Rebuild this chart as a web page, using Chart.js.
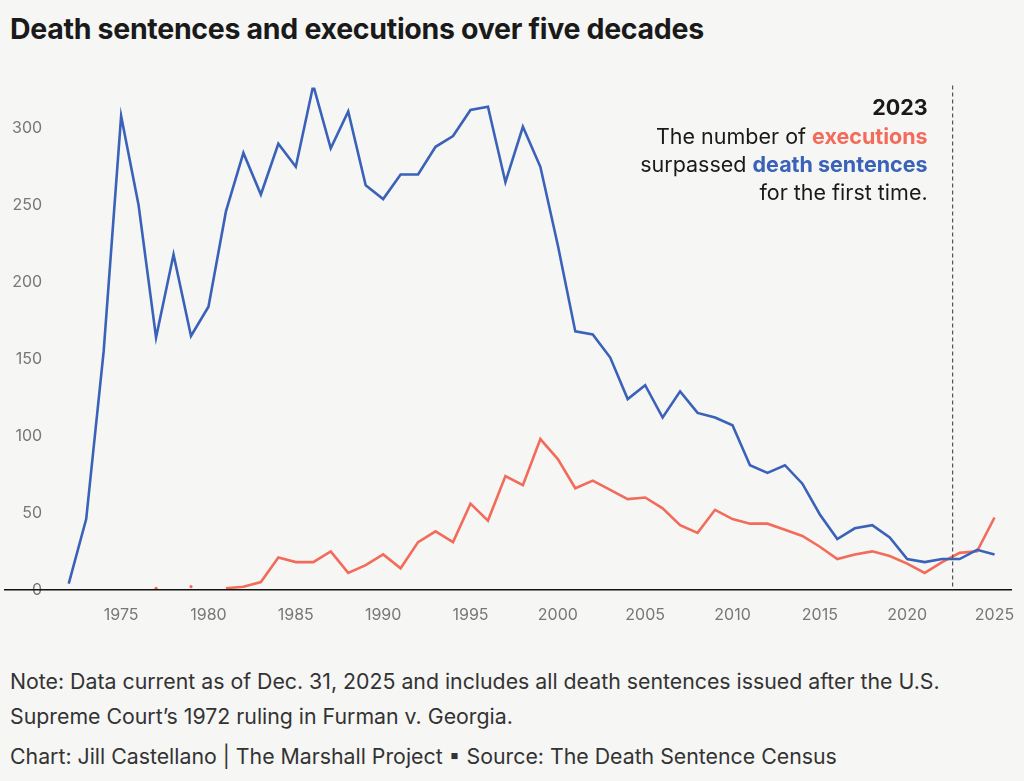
<!DOCTYPE html>
<html>
<head>
<meta charset="utf-8">
<script src="https://cdn.jsdelivr.net/npm/chart.js@4"></script>
<style>
  body { margin: 0; background: #f6f6f4; font-family: Inter, "Noto Sans", sans-serif; color: #1a1a1a; }
  h1 { position: absolute; left: 10px; top: 11px; margin: 0; font-size: 28.5px; font-weight: 700; letter-spacing: -0.3px; }
  #wrap { position: absolute; left: 0; top: 70px; width: 1024px; height: 563px; }
  .note { position: absolute; left: 10px; font-size: 21.3px; color: #333; line-height: 35px; }
</style>
</head>
<body>
<h1>Death sentences and executions over five decades</h1>
<div id="wrap"><canvas id="chart"></canvas></div>
<div class="note" style="top:664px">Note: Data current as of Dec. 31, 2025 and includes all death sentences issued after the U.S.<br>Supreme Court’s 1972 ruling in Furman v. Georgia.</div>
<div class="note" style="top:739px">Chart: Jill Castellano | The Marshall Project ▪ Source: The Death Sentence Census</div>
<script>
// Données
const years = [];
for (let y = 1972; y <= 2025; y++) years.push(y);

const sentences = [4, 46, 155, 308, 250, 164, 218, 165, 184, 246,
  284, 257, 290, 275, 328, 287, 311, 263, 254, 270,
  270, 288, 295, 312, 314, 265, 301, 275, 224, 168,
  166, 151, 124, 133, 112, 129, 115, 112, 107, 81,
  76, 81, 69, 49, 33, 40, 42, 34, 20, 18,
  20, 20, 26, 23];

const executions = [null, null, null, null, null, 1, null, 2, null, 1,
  2, 5, 21, 18, 18, 25, 11, 16, 23, 14,
  31, 38, 31, 56, 45, 74, 68, 98, 85, 66,
  71, 65, 59, 60, 53, 42, 37, 52, 46, 43,
  43, 39, 35, 28, 20, 23, 25, 22, 17, 11,
  18, 24, 25, 47];

const yTicks = [0, 50, 100, 150, 200, 250, 300];
const xTicks = [1975, 1980, 1985, 1990, 1995, 2000, 2005, 2010, 2015, 2020, 2025];

const BLUE = '#3a62b8';
const RED = '#f26b5b';

// points isolés pour les exécutions (1977, 1979)
function isolated(ctx) {
  const i = ctx.dataIndex;
  const d = executions;
  if (d[i] == null) return 0;
  return (d[i - 1] == null && d[i + 1] == null) ? 1.6 : 0;
}

const overlay = {
  id: 'overlay',
  afterDraw(chart) {
    const { ctx, scales: { x, y }, chartArea } = chart;
    ctx.save();
    // ligne de base
    ctx.strokeStyle = '#111';
    ctx.lineWidth = 1.5;
    ctx.beginPath();
    ctx.moveTo(4, y.getPixelForValue(0));
    ctx.lineTo(1012, y.getPixelForValue(0));
    ctx.stroke();
    // ligne pointillée 2023
    const lx = x.getPixelForValue(2022.6);
    ctx.strokeStyle = '#555';
    ctx.lineWidth = 1.2;
    ctx.setLineDash([4, 3]);
    ctx.beginPath();
    ctx.moveTo(lx, chartArea.top - 2);
    ctx.lineTo(lx, y.getPixelForValue(0));
    ctx.stroke();
    ctx.setLineDash([]);
    // annotation
    const rx = lx - 25;
    const F = 21.5;
    ctx.textAlign = 'right';
    ctx.textBaseline = 'alphabetic';
    ctx.font = `700 ${F}px Inter`;
    ctx.fillStyle = '#1a1a1a';
    ctx.fillText('2023', rx, 45);
    ctx.fillStyle = RED;
    ctx.fillText('executions', rx, 74);
    let w = ctx.measureText('executions').width;
    ctx.font = `400 ${F}px Inter`;
    ctx.fillStyle = '#1a1a1a';
    ctx.fillText('The number of ', rx - w, 74);
    ctx.font = `700 ${F}px Inter`;
    ctx.fillStyle = BLUE;
    ctx.fillText('death sentences', rx, 102);
    w = ctx.measureText('death sentences').width;
    ctx.font = `400 ${F}px Inter`;
    ctx.fillStyle = '#1a1a1a';
    ctx.fillText('surpassed ', rx - w, 102);
    ctx.fillText('for the first time.', rx, 130);
    ctx.restore();
  }
};

new Chart(document.getElementById('chart'), {
  type: 'line',
  data: {
    labels: years,
    datasets: [{
      label: 'Death sentences',
      data: years.map((yr, i) => ({ x: yr, y: sentences[i] })),
      borderColor: BLUE,
      borderWidth: 2.6,
      pointRadius: 0,
      tension: 0
    }, {
      label: 'Executions',
      data: years.map((yr, i) => ({ x: yr, y: executions[i] })),
      borderColor: RED,
      backgroundColor: RED,
      borderWidth: 2.6,
      pointRadius: isolated,
      pointBorderWidth: 0,
      spanGaps: false,
      tension: 0
    }]
  },
  options: {
    responsive: true,
    maintainAspectRatio: false,
    animation: false,
    layout: { padding: { top: 10, right: 12, left: 4, bottom: 0 } },
    plugins: { legend: { display: false }, tooltip: { enabled: false } },
    scales: {
      x: {
        type: 'linear', min: 1971.39, max: 2026,
        grid: { display: false },
        border: { display: false },
        afterBuildTicks: axis => { axis.ticks = xTicks.map(v => ({ value: v })); },
        ticks: { color: '#777', font: { family: 'Inter', size: 16 }, padding: 8, callback: v => String(v) }
      },
      y: {
        min: 0, max: 326.5,
        grid: { display: false },
        border: { display: false },
        afterBuildTicks: axis => { axis.ticks = yTicks.map(v => ({ value: v })); },
        ticks: { color: '#777', font: { family: 'Inter', size: 16 }, padding: 8 }
      }
    }
  },
  plugins: [overlay]
});
</script>
</body>
</html>
